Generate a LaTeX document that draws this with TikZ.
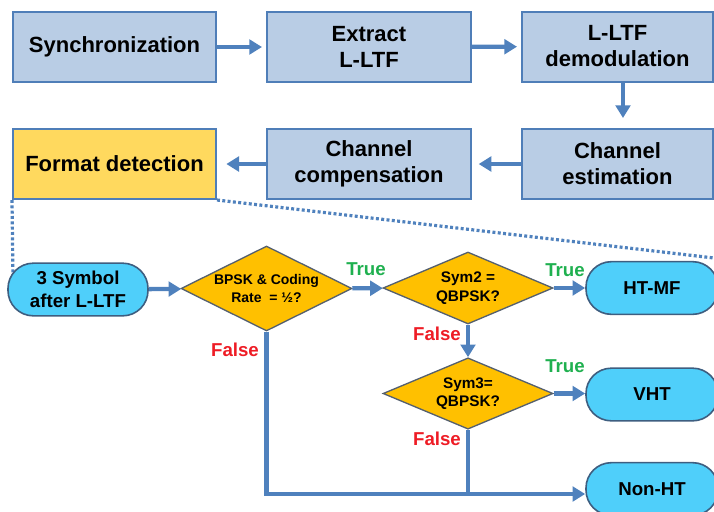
\documentclass[tikz,border=0pt]{standalone}
\usepackage{fontspec}
\setmainfont{Liberation Sans}
\usetikzlibrary{shapes.geometric,arrows.meta}
\definecolor{boxfill}{HTML}{B9CDE5}
\definecolor{boxline}{HTML}{4F7EB8}
\definecolor{fmtfill}{HTML}{FFD95E}
\definecolor{flow}{HTML}{4F81BD}
\definecolor{pillfill}{HTML}{4FCFFA}
\definecolor{pillline}{HTML}{3E5E80}
\definecolor{decfill}{HTML}{FFC000}
\definecolor{decline}{HTML}{55606E}
\definecolor{truegreen}{HTML}{1FB04F}
\definecolor{falsered}{HTML}{EE1C25}
\tikzset{
  stagebox/.style={draw=boxline, line width=1.5pt, fill=boxfill, minimum height=52.5pt,
    align=center, font=\bfseries\fontsize{16.5}{19.5}\selectfont, inner sep=0pt},
  pill/.style={draw=pillline, line width=1.2pt, fill=pillfill, rounded corners=19pt,
    minimum height=39.5pt, align=center, font=\bfseries\fontsize{14}{17}\selectfont, inner sep=0pt},
  decision/.style={diamond, draw=decline, line width=1pt, fill=decfill, inner sep=0pt,
    minimum width=127.5pt},
  dectext/.style={font=\bfseries\fontsize{#1}{14}\selectfont, align=center, inner sep=0pt},
  flowarrow/.style={draw=flow, line width=3.2pt, -{Triangle[length=9.5pt,width=11pt]}},
  stagearrow/.style={flowarrow, shorten >=5pt},
  flowline/.style={draw=flow, line width=3.2pt},
  zoomline/.style={draw=flow, line width=2.4pt, dash pattern=on 2.2pt off 1.8pt},
  yes/.style={text=truegreen, font=\bfseries\fontsize{14}{16}\selectfont},
  no/.style={text=falsered, font=\bfseries\fontsize{14}{16}\selectfont},
}
\begin{document}
\begin{tikzpicture}[x=0.75pt, y=-0.75pt]
\useasboundingbox (0,0) rectangle (714,511);
% receiver stages
\node[stagebox, minimum width=152.25pt] (sync) at (114.5,47) {Synchronization};
\node[stagebox, minimum width=153pt] (extract) at (369,47) {Extract\\L-LTF};
\node[stagebox, minimum width=143.25pt] (demod) at (617.5,46.5) {L-LTF\\demodulation};
\node[stagebox, minimum width=143.25pt] (chest) at (617.5,164) {Channel\\estimation};
\node[stagebox, minimum width=153pt] (chcomp) at (369,164) {Channel\\compensation};
\node[stagebox, minimum width=152.25pt, fill=fmtfill] (fmt) at (114.5,164) {Format detection};
\draw[stagearrow, shorten >=3pt] (sync) -- (extract);
\draw[stagearrow, shorten >=3pt] (extract) -- (demod);
\draw[stagearrow, shorten >=7.5pt] (demod.south -| 623,0) -- (chest.north -| 623,0);
\draw[stagearrow] (chest) -- (chcomp);
\draw[stagearrow, shorten >=7pt] (chcomp) -- (fmt);
% detail of the format detection
\coordinate (zl) at (13,279);
\coordinate (zr) at (714,258);
\draw[zoomline] (fmt.south west) -- (zl);
\draw[zoomline] (fmt.south east) -- (zr);
\node[pill, minimum width=105pt] (sym) at (78,289.5) {3 Symbol\\after L-LTF};
\node[decision, minimum width=128.25pt, minimum height=63.75pt,
  label={[dectext=10.5]center:{BPSK \& Coding\\Rate \ = ½?}}] (d1) at (266.5,288.5) {};
\node[decision, minimum height=54pt,
  label={[dectext=11.5]center:{Sym2 =\\QBPSK?}}] (d2) at (468,288) {};
\node[decision, minimum height=53.5pt,
  label={[dectext=11.5]center:{Sym3=\\QBPSK?}}] (d3) at (468,393.5) {};
\node[pill, minimum width=99pt] (htmf) at (652,288) {HT-MF};
\node[pill, minimum width=99pt] (vht) at (652,394.5) {VHT};
\node[pill, minimum width=99pt] (nonht) at (652,489) {Non-HT};
\draw[flowarrow] (sym) -- (d1);
\draw[flowarrow] (d1) -- (d2);
\draw[flowarrow] (d2) -- (htmf);
\draw[flowarrow] (d2) -- (d3);
\draw[flowarrow] (d3.east) -- (vht.west |- d3.east);
\coordinate (join) at (468,494);
\draw[flowline] (d3.south) -- (join);
\draw[flowarrow] (d1.south) |- (nonht.west |- join);
% branch labels
\node[yes] (t1) at (366,269) {True};
\node[yes] (t2) at (565,270) {True};
\node[yes] (t3) at (565,366) {True};
\node[no] (f1) at (235,350) {False};
\node[no] (f2) at (437,334) {False};
\node[no] (f3) at (437,439) {False};
\end{tikzpicture}
\end{document}
